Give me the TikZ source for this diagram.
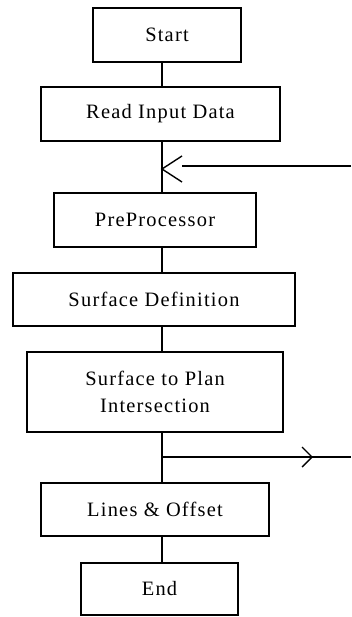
\documentclass[tikz,border=0pt]{standalone}
\usepackage{fontspec}
\setmainfont{Liberation Serif}[LetterSpace=6]
\begin{document}
\begin{tikzpicture}[x=1bp,y=-1bp,
  flowbox/.style={draw, line width=1.4bp, rectangle, inner sep=0pt, align=center,
    font=\fontsize{20.5}{27}\selectfont},
  link/.style={line width=1.4bp},
  chevron/.style={line width=1.4bp, line join=miter}]
  \useasboundingbox (0,0) rectangle (351,617);

  % process boxes (centre, width x height in px)
  \node[flowbox, minimum width=148bp, minimum height=54bp] (start) at (167,35) {Start};
  \node[flowbox, minimum width=239bp, minimum height=54bp] (read) at (160.5,114) {Read Input Data};
  \node[flowbox, minimum width=202bp, minimum height=54bp] (pre) at (155,220) {PreProcessor};
  \node[flowbox, minimum width=282bp, minimum height=53bp] (surf) at (154,299.5) {Surface Definition};
  \node[flowbox, minimum width=256bp, minimum height=80bp] (inter) at (155,392) {Surface to Plan\\Intersection};
  \node[flowbox, minimum width=228bp, minimum height=53bp] (lines) at (155,509.5) {Lines \& Offset};
  \node[flowbox, minimum width=157bp, minimum height=52bp] (finish) at (159.5,589) {End};

  % main vertical flow line
  \coordinate (spine) at (162,0);
  \draw[link] (start.south -| spine) -- (read.north -| spine);
  \draw[link] (read.south -| spine) -- (pre.north -| spine);
  \draw[link] (pre.south -| spine) -- (surf.north -| spine);
  \draw[link] (surf.south -| spine) -- (inter.north -| spine);
  \draw[link] (inter.south -| spine) -- (lines.north -| spine);
  \draw[link] (lines.south -| spine) -- (finish.north -| spine);

  % incoming loop-back branch
  \coordinate (loopin) at (351,166);
  \coordinate (loopjoin) at (162,169);
  \draw[link] (loopin) -- (loopin -| 182,0);
  \draw[chevron] ([shift={(20,-13)}]loopjoin) -- (loopjoin) -- ([shift={(20,13)}]loopjoin);

  % outgoing branch
  \coordinate (outfork) at (162,457);
  \coordinate (outend) at (351,457);
  \coordinate (outtip) at (312,457);
  \draw[link] (outfork) -- (outend);
  \draw[chevron] ([shift={(-10,-10)}]outtip) -- (outtip) -- ([shift={(-10,10)}]outtip);
\end{tikzpicture}
\end{document}
